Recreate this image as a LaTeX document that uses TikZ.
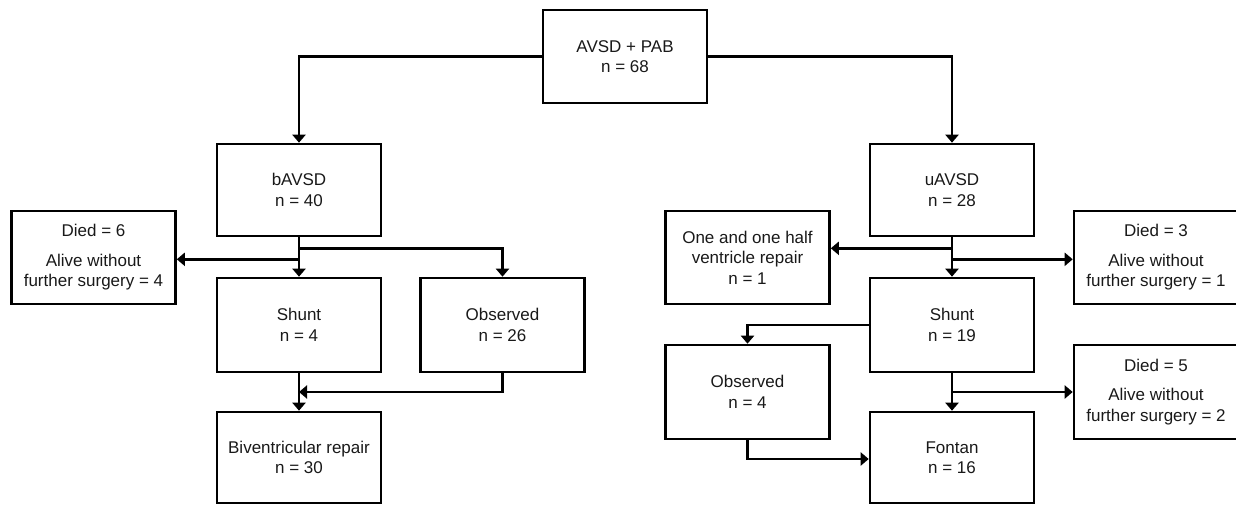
\documentclass[tikz,border=0pt]{standalone}
\usepackage{fontspec}
\setmainfont{Liberation Sans}
\usetikzlibrary{arrows.meta,calc}
\begin{document}
\begin{tikzpicture}[x=1pt,y=-1pt,
  box/.style={draw=black,line width=2.6pt,minimum width=164pt,inner sep=0pt,align=center,
    font=\fontsize{17}{20.5}\selectfont,text=black!90},
  conn/.style={draw=black,line width=2.6pt},
  arr/.style={conn,-{Triangle[width=13pt,length=8pt]}}]
\useasboundingbox (0,0) rectangle (1236,506);
% nodes
\node[box,minimum height=93pt] (top) at (625,56.5) {AVSD + PAB\\n = 68};
\node[box,minimum height=92pt] (bav) at (299,190) {bAVSD\\n = 40};
\node[box,minimum height=92pt] (uav) at (952,190) {uAVSD\\n = 28};
\node[box,minimum height=93pt] (died6) at (93.5,257.5) {Died = 6\\[9pt]Alive without\\further surgery = 4};
\node[box,minimum height=93pt] (half) at (747.5,257.5) {One and one half\\ventricle repair\\n = 1};
\node[box,minimum height=93pt] (died3) at (1156,257.5) {Died = 3\\[9pt]Alive without\\further surgery = 1};
\node[box,minimum height=94pt] (shuntL) at (299,325) {Shunt\\n = 4};
\node[box,minimum height=94pt] (obsL) at (502.5,325) {Observed\\n = 26};
\node[box,minimum height=91pt] (biv) at (299,457.5) {Biventricular repair\\n = 30};
\node[box,minimum height=94pt] (shuntR) at (952,325) {Shunt\\n = 19};
\node[box,minimum height=94pt] (obsR) at (747.5,392) {Observed\\n = 4};
\node[box,minimum height=94pt] (died5) at (1156,392) {Died = 5\\[9pt]Alive without\\further surgery = 2};
\node[box,minimum height=91pt] (fon) at (952,457.5) {Fontan\\n = 16};
% junction coordinates
\coordinate (jL1) at ($(bav.south)+(0,11)$);
\coordinate (jL2) at ($(bav.south)+(0,22)$);
\coordinate (jR1) at ($(uav.south)+(0,11)$);
\coordinate (jR2) at ($(uav.south)+(0,22)$);
\coordinate (mL) at ($(shuntL.south)!0.5!(biv.north)$);
\coordinate (mR) at ($(shuntR.south)!0.5!(fon.north)$);
% connectors
\draw[arr] (top.west) -| (bav.north);
\draw[arr] (top.east) -| (uav.north);
\draw[arr] (bav.south) -- (shuntL.north);
\draw[arr] (jL1) -| (obsL.north);
\draw[arr] (jL2) -- (died6.east |- jL2);
\draw[arr] (shuntL.south) -- (biv.north);
\draw[arr] (obsL.south) |- (mL);
\draw[arr] (uav.south) -- (shuntR.north);
\draw[arr] (jR1) -- (half.east |- jR1);
\draw[arr] (jR2) -- (died3.west |- jR2);
\draw[arr] (shuntR.west) -| (obsR.north);
\draw[arr] (shuntR.south) -- (fon.north);
\draw[arr] (mR) -- (died5.west |- mR);
\draw[arr] (obsR.south) |- ($(fon.west)+(0,1.5)$);
\end{tikzpicture}
\end{document}
